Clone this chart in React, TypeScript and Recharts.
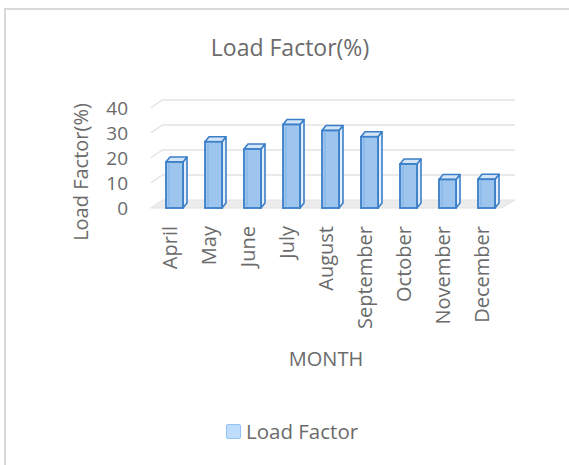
import React from 'react';
import { BarChart, Bar, CartesianGrid, XAxis, YAxis } from 'recharts';

const months = ['April', 'May', 'June', 'July', 'August', 'September', 'October', 'November', 'December'];
const loadFactor = [18.4, 26.5, 23.6, 33.4, 31.0, 28.5, 17.6, 11.4, 11.5];
const yTicks = [0, 10, 20, 30, 40];

const data = months.map((month, i) => ({ month, loadFactor: loadFactor[i] }));

const FONT = '"Open Sans", sans-serif';
const TEXT = '#6b6b6b';
const DEPTH_X = 4;
const DEPTH_Y = 5;

// fake 3d column: front face + top + right side
const Column3D = (props: any) => {
  const { x, y, width, height } = props;
  if (height == null || height <= 0) return null;
  const fx = x + 4.5;
  const w = width;
  const top = `${fx},${y} ${fx + DEPTH_X},${y - DEPTH_Y} ${fx + w + DEPTH_X},${y - DEPTH_Y} ${fx + w},${y}`;
  const side = `${fx + w},${y} ${fx + w + DEPTH_X},${y - DEPTH_Y} ${fx + w + DEPTH_X},${y + height - DEPTH_Y} ${fx + w},${y + height}`;
  return (
    <g>
      <polygon points={side} fill="#e4eef9" stroke="#3b7fc8" strokeWidth={1.6} strokeLinejoin="round" />
      <polygon points={top} fill="#d3e5f7" stroke="#3b7fc8" strokeWidth={1.6} strokeLinejoin="round" />
      <rect x={fx} y={y} width={w} height={height} fill="#9dc5ee" stroke="#3b7fc8" strokeWidth={1.8} />
      <line x1={fx + 3} y1={y + 2} x2={fx + 3} y2={y + height - 2} stroke="#7fb2e6" strokeWidth={1} />
    </g>
  );
};

// gridlines slanting back into the wall, floor for the zero line
const WallGridLine = (props: any) => {
  const { x1, x2, y1, y, height, index } = props;
  const bx = x1 + 12;
  const by = y1 - 8;
  const right = x2 + 13.5;
  if (Math.abs(y1 - (y + height)) < 1) {
    return (
      <polygon
        key={`floor-${index}`}
        points={`${x1},${y1} ${x2},${y1} ${right},${by} ${bx},${by}`}
        fill="#ececec"
        stroke="#e2e2e2"
        strokeWidth={1}
      />
    );
  }
  return (
    <polyline
      key={`grid-${index}`}
      points={`${x1},${y1} ${bx},${by} ${right},${by}`}
      fill="none"
      stroke="#e3e3e3"
      strokeWidth={1.3}
    />
  );
};

const MonthTick = (props: any) => {
  const { x, y, payload } = props;
  return (
    <text
      transform={`translate(${x},${y + 10}) rotate(-90)`}
      textAnchor="end"
      dy="0.35em"
      fill={TEXT}
      fontSize={20}
      fontFamily={FONT}
    >
      {payload.value}
    </text>
  );
};

export default function App() {
  return (
    <div style={{ position: 'absolute', left: 0, top: 0, width: 569, height: 465, overflow: 'hidden', background: '#fff' }}>
      <div
        style={{
          position: 'absolute',
          left: 4,
          top: 8,
          width: 565,
          height: 457,
          borderTop: '2px solid #d9d9d9',
          borderLeft: '2px solid #d9d9d9',
          boxSizing: 'border-box',
        }}
      />
      <div
        style={{
          position: 'absolute',
          left: 140,
          top: 32,
          width: 300,
          lineHeight: '30px',
          textAlign: 'center',
          fontFamily: FONT,
          fontSize: 23,
          color: TEXT,
        }}
      >
        Load Factor(%)
      </div>
      <div
        style={{
          position: 'absolute',
          left: 81 - 100,
          top: 172 - 15,
          width: 200,
          lineHeight: '30px',
          textAlign: 'center',
          fontFamily: FONT,
          fontSize: 20,
          color: TEXT,
          transform: 'rotate(-90deg)',
        }}
      >
        Load Factor(%)
      </div>
      <div
        style={{
          position: 'absolute',
          left: 226,
          top: 344,
          width: 200,
          lineHeight: '30px',
          textAlign: 'center',
          fontFamily: FONT,
          fontSize: 20,
          color: TEXT,
        }}
      >
        MONTH
      </div>
      <div style={{ position: 'absolute', left: 226, top: 416, display: 'flex', alignItems: 'center', fontFamily: FONT, fontSize: 20.5, color: TEXT, lineHeight: '30px' }}>
        <span style={{ display: 'inline-block', width: 13, height: 13, background: '#bfdefd', border: '1px solid #93c4f5', borderRadius: 2, marginRight: 5 }} />
        Load Factor
      </div>
      <div style={{ position: 'absolute', left: 0, top: 0 }}>
        <BarChart
          width={569}
          height={465}
          data={data}
          margin={{ top: 108, right: 67.5, bottom: 0, left: 0 }}
          barSize={17}
        >
          <CartesianGrid vertical={false} horizontal={WallGridLine} />
          <XAxis
            dataKey="month"
            axisLine={false}
            tickLine={false}
            interval={0}
            height={257}
            tick={MonthTick}
          />
          <YAxis
            domain={[0, 40]}
            ticks={yTicks}
            interval={0}
            axisLine={false}
            tickLine={false}
            width={150.5}
            tickMargin={16.5}
            tick={{ fill: TEXT, fontSize: 19, fontFamily: FONT }}
          />
          <Bar dataKey="loadFactor" shape={Column3D} isAnimationActive={false} />
        </BarChart>
      </div>
    </div>
  );
}
